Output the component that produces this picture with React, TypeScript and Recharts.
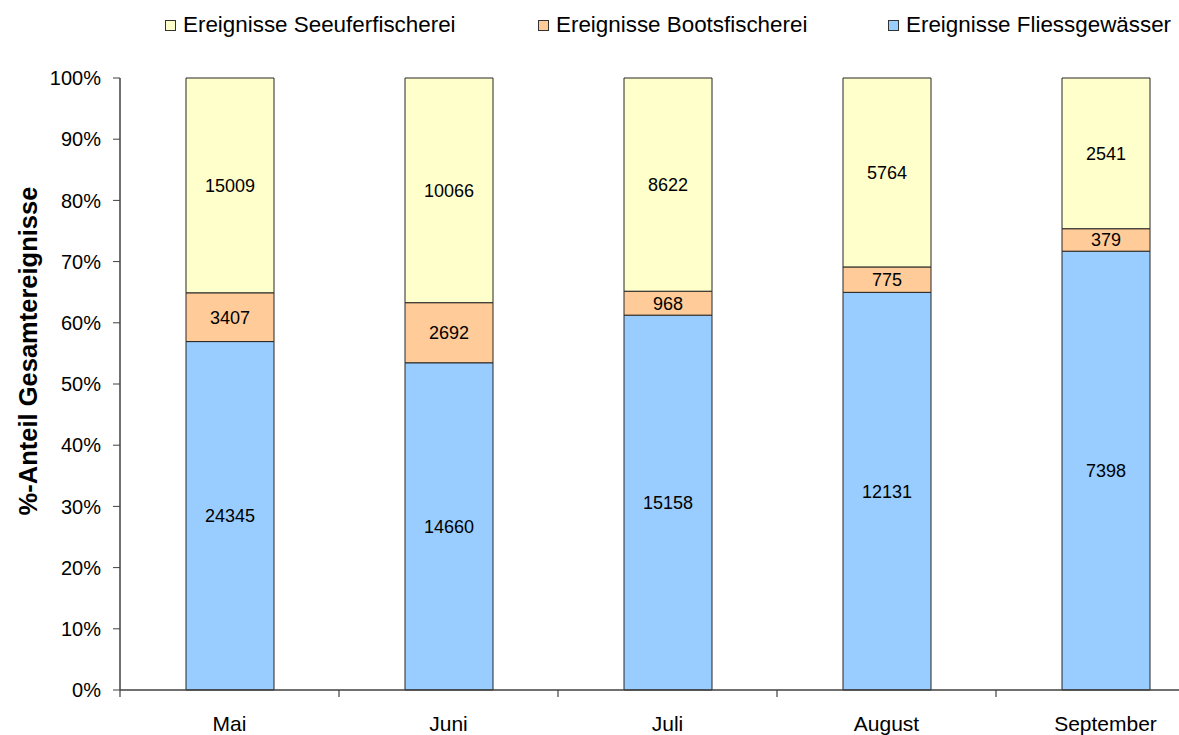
import React from 'react';
import { BarChart, Bar, XAxis, YAxis, LabelList } from 'recharts';

const months = ['Mai', 'Juni', 'Juli', 'August', 'September'];
const fliess = [24345, 14660, 15158, 12131, 7398];
const boots = [3407, 2692, 968, 775, 379];
const seeufer = [15009, 10066, 8622, 5764, 2541];
const yTicks = [0, 0.1, 0.2, 0.3, 0.4, 0.5, 0.6, 0.7, 0.8, 0.9, 1];
const legendItems = [
  { key: 'seeufer', name: 'Ereignisse Seeuferfischerei', color: '#FFFFCC', left: 165 },
  { key: 'boots', name: 'Ereignisse Bootsfischerei', color: '#FFCC99', left: 538 },
  { key: 'fliess', name: 'Ereignisse Fliessgewässer', color: '#99CCFF', left: 888 },
];
const yTitle = '%-Anteil Gesamtereignisse';

const data = months.map((m, i) => ({
  month: m,
  fliess: fliess[i],
  boots: boots[i],
  seeufer: seeufer[i],
}));

const FONT = '"Liberation Sans", Arial, Helvetica, sans-serif';
const AXIS = '#404040';
const BAR_STROKE = '#262626';
const CHART_W = 1230;
const CHART_H = 735;
const MARGIN = { top: 78, right: 15, bottom: 0, left: 0 };
const Y_W = 120;
const X_H = 45;
const BAND = (CHART_W - MARGIN.left - MARGIN.right - Y_W) / months.length;
const AXIS_Y = CHART_H - MARGIN.bottom - X_H;

const XTick = (props: any) => {
  const { x, payload } = props;
  const left = x - BAND / 2;
  return (
    <g>
      <line x1={left} x2={left} y1={AXIS_Y} y2={AXIS_Y + 7} stroke={AXIS} strokeWidth={1.2} />
      <text x={x} y={AXIS_Y + 41} textAnchor="middle" fontSize={21} fill="#000" fontFamily={FONT}>
        {payload.value}
      </text>
    </g>
  );
};

const YTitle = (props: any) => {
  const vb = props.viewBox || {};
  const cx = (vb.x ?? 0) + 28;
  const cy = (vb.y ?? 0) + (vb.height ?? 0) / 2 - 33;
  return (
    <text
      x={cx}
      y={cy}
      transform={`rotate(-90, ${cx}, ${cy})`}
      textAnchor="middle"
      dominantBaseline="central"
      fontSize={25.5}
      fontWeight="bold"
      fill="#000"
      fontFamily={FONT}
    >
      {yTitle}
    </text>
  );
};

export default function App() {
  return (
    <div
      style={{
        position: 'relative',
        width: 1179,
        height: 735,
        overflow: 'hidden',
        background: '#fff',
        fontFamily: FONT,
      }}
    >
      <style>{'html,body{margin:0;padding:0;overflow:hidden;}'}</style>
      {legendItems.map((it) => (
        <div
          key={it.key}
          style={{
            position: 'absolute',
            left: it.left,
            top: 12,
            height: 26,
            display: 'flex',
            alignItems: 'center',
            fontSize: 22.4,
            color: '#000',
            whiteSpace: 'nowrap',
            fontFamily: FONT,
          }}
        >
          <span
            style={{
              display: 'inline-block',
              width: 9,
              height: 9,
              background: it.color,
              border: '1px solid #333',
              marginRight: 7,
            }}
          />
          <span>{it.name}</span>
        </div>
      ))}
      <div style={{ position: 'absolute', left: 0, top: 0 }}>
        <BarChart
          width={CHART_W}
          height={CHART_H}
          data={data}
          margin={MARGIN}
          stackOffset="expand"
          barSize={88}
        >
          <XAxis
            dataKey="month"
            height={X_H}
            axisLine={{ stroke: AXIS, strokeWidth: 1.5 }}
            tickLine={false}
            tickSize={0}
            tickMargin={0}
            tick={<XTick />}
            interval={0}
          />
          <YAxis
            width={Y_W}
            domain={[0, 1]}
            ticks={yTicks}
            tickFormatter={(v: number) => `${Math.round(v * 100)}%`}
            axisLine={{ stroke: AXIS, strokeWidth: 1.5 }}
            tickLine={{ stroke: AXIS }}
            tickSize={7}
            tickMargin={12}
            tick={{ fill: '#000', fontSize: 20, fontFamily: FONT }}
            label={<YTitle />}
          />
          <Bar dataKey="fliess" stackId="a" fill="#99CCFF" stroke={BAR_STROKE} strokeWidth={1} isAnimationActive={false}>
            <LabelList dataKey="fliess" position="center" fill="#000" fontSize={18} fontFamily={FONT} />
          </Bar>
          <Bar dataKey="boots" stackId="a" fill="#FFCC99" stroke={BAR_STROKE} strokeWidth={1} isAnimationActive={false}>
            <LabelList dataKey="boots" position="center" fill="#000" fontSize={18} fontFamily={FONT} />
          </Bar>
          <Bar dataKey="seeufer" stackId="a" fill="#FFFFCC" stroke={BAR_STROKE} strokeWidth={1} isAnimationActive={false}>
            <LabelList dataKey="seeufer" position="center" fill="#000" fontSize={18} fontFamily={FONT} />
          </Bar>
        </BarChart>
      </div>
    </div>
  );
}
